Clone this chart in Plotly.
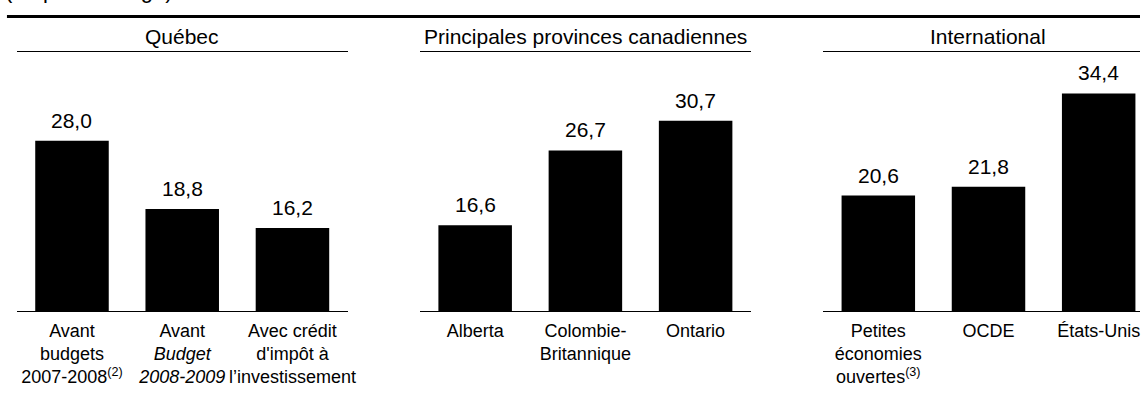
import plotly.graph_objects as go
from plotly.subplots import make_subplots

# Data
panel_titles = ["Québec", "Principales provinces canadiennes", "International"]

quebec_labels = [
    "Avant<br>budgets<br>2007-2008<sup>(2)</sup>",
    "Avant<br><i>Budget</i><br><i>2008-2009</i>",
    "Avec crédit<br>d'impôt à<br>l’investissement",
]
quebec_values = [28.0, 18.8, 16.2]

provinces_labels = ["Alberta", "Colombie-<br>Britannique", "Ontario"]
provinces_values = [16.6, 26.7, 30.7]

intl_labels = ["Petites<br>économies<br>ouvertes<sup>(3)</sup>", "OCDE", "États-Unis"]
intl_values = [20.6, 21.8, 34.4]

panels = [
    (quebec_labels, quebec_values),
    (provinces_labels, provinces_values),
    (intl_labels, intl_values),
]

FONT = "Arial, Liberation Sans, sans-serif"
W, H = 1148, 403
TOP, BOTTOM = 52, 311

fig = make_subplots(rows=1, cols=3)

domains = [[17 / W, 350 / W], [423 / W, 756 / W], [829 / W, 1.0]]
ranges = [[-0.5, 2.5], [-0.5, 2.5], [-0.5, 2.375]]

for i, (labels, values) in enumerate(panels):
    n = i + 1
    fig.add_trace(go.Bar(x=labels, y=values, marker_color="#000000",
                         marker_line_width=0, width=0.667), row=1, col=n)
    xa = "x" if n == 1 else f"x{n}"
    ya = "y" if n == 1 else f"y{n}"
    # value labels
    for lab, v in zip(labels, values):
        fig.add_annotation(x=lab, y=v, xref=xa, yref=ya, text=f"{v:.1f}".replace(".", ","),
                           showarrow=False, yanchor="bottom", yshift=7,
                           font=dict(size=21, color="#000000", family=FONT))
    # panel header
    fig.add_annotation(x=labels[1], y=1, xref=xa, yref=f"{ya} domain", text=panel_titles[i],
                       showarrow=False, yanchor="bottom", yshift=2,
                       font=dict(size=21, color="#000000", family=FONT))
    fig.update_xaxes(domain=domains[i], range=ranges[i], showline=True, mirror=True,
                     linecolor="#000000", linewidth=1, ticks="", showgrid=False,
                     ticklabelstandoff=3,
                     tickfont=dict(size=18, color="#000000", family=FONT),
                     row=1, col=n)
    fig.update_yaxes(range=[5, 40], visible=False, showgrid=False, row=1, col=n)

# thick rule under the (cropped) title
rule_y = (BOTTOM - 16.5) / (BOTTOM - TOP)
fig.add_shape(type="line", xref="paper", yref="paper",
              x0=7 / W, x1=1.0, y0=rule_y, y1=rule_y,
              line=dict(color="#000000", width=3))

fig.add_annotation(x=3 / W, y=(BOTTOM - 5) / (BOTTOM - TOP), xref="paper", yref="paper",
                   text="(en pourcentage)", showarrow=False, xanchor="left", yanchor="bottom",
                   font=dict(size=22, color="#000000", family=FONT))

fig.update_layout(
    width=W, height=H,
    margin=dict(l=0, r=0, t=TOP, b=H - BOTTOM),
    plot_bgcolor="#ffffff", paper_bgcolor="#ffffff",
    showlegend=False,
    font=dict(family=FONT, color="#000000"),
)

fig.write_html("out.html", config={"displayModeBar": False},
               post_script="document.body.style.margin='0';")
